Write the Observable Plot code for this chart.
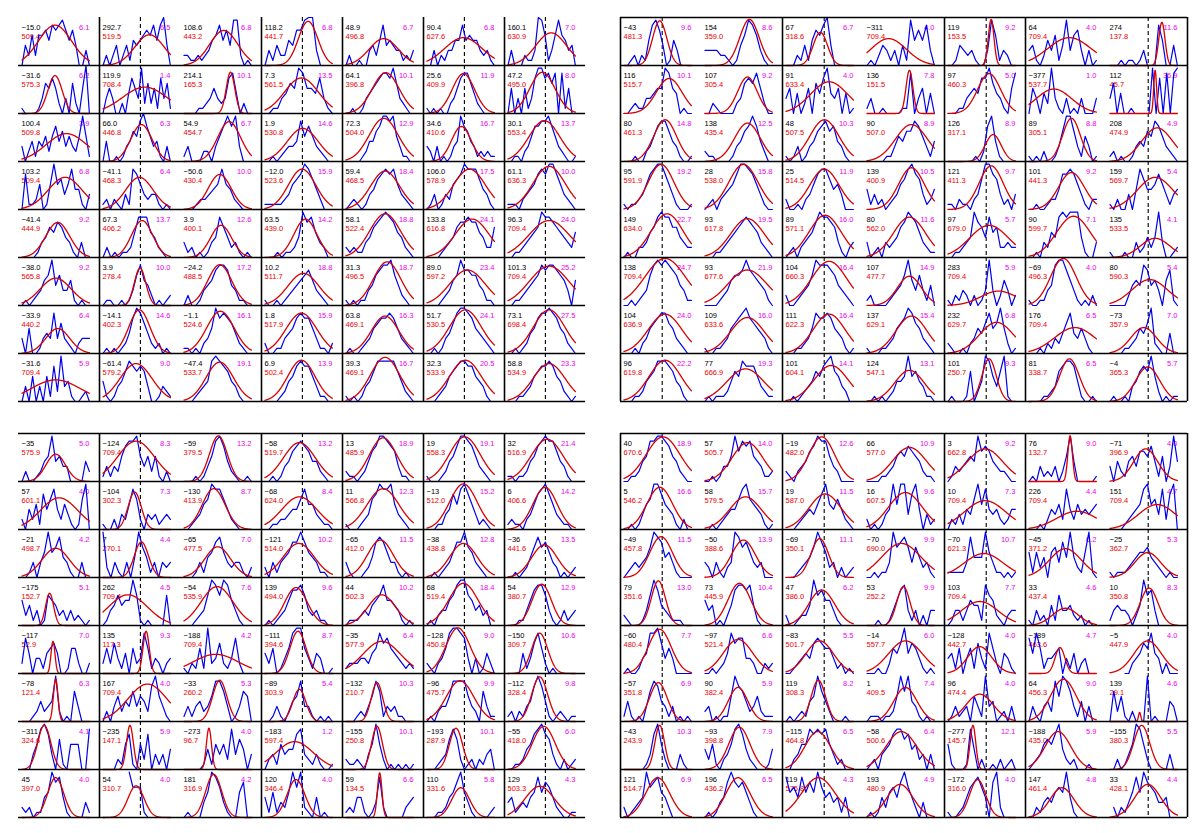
<!DOCTYPE html>
<html><head><meta charset="utf-8">
<script src="https://cdn.jsdelivr.net/npm/d3@7"></script>
<script src="https://cdn.jsdelivr.net/npm/@observablehq/plot@0.6"></script>
<style>
html,body{margin:0;padding:0;background:#fff;}
#chart{position:relative;width:1200px;height:833px;background:#fff;overflow:hidden;}
.panel{position:absolute;}
</style></head><body><div id="chart"></div>
<script>
// ---------- DATA: top-left panel ----------
const tlBlack = ["−15.0","292.7","108.6","118.2","48.9","90.4","160.1",
"−31.6","119.9","214.1","7.3","64.1","25.6","47.2",
"100.4","66.0","54.9","1.9","72.3","34.6","30.1",
"103.2","−41.1","−50.6","−12.0","59.4","106.0","61.1",
"−41.4","67.3","3.9","63.5","58.1","133.8","96.3",
"−38.0","3.9","−24.2","10.2","31.3","89.0","101.3",
"−33.9","−14.1","−1.1","1.8","63.8","51.7","73.1",
"−31.6","−61.4","−47.4","6.9","39.3","32.3","58.8"];
const tlRed = ["509.4","519.5","443.2","441.7","496.8","627.6","630.9",
"575.3","708.4","165.3","561.5","396.8","409.9","495.0",
"509.8","446.8","454.7","530.8","504.0","410.6","553.4",
"509.4","468.3","430.4","523.6","468.5","578.9","636.3",
"444.9","406.2","400.1","439.0","522.4","616.8","709.4",
"565.8","278.4","488.5","511.7","496.5","597.2","709.4",
"440.2","402.3","524.6","517.9","469.1","530.5","698.4",
"709.4","579.2","533.7","502.4","469.1","533.9","534.9"];
const tlMag = ["6.1","6.5","6.8","6.8","6.7","6.8","7.0",
"6.2","1.4","10.1","13.5","10.1","11.9","8.0",
"3.9","6.3","6.7","14.6","12.9","16.7","13.7",
"6.8","6.4","10.0","15.9","18.4","17.5","10.0",
"9.2","13.7","12.6","14.2","18.8","24.1","24.0",
"9.2","10.0","17.2","18.8","18.7","23.4","25.2",
"6.4","14.6","16.1","15.9","16.3","24.1","27.5",
"5.9","9.0","19.1","13.9","16.7","20.5","23.3"];
// Gaussian fit: [centre, FWHM, peak] in cell units
const tlFit = [[.49,.58,.84],[.69,.51,.64],[.59,.49,.73],[.64,.34,.92],[.56,.51,.56],[.54,.66,.58],[.64,.54,.68],
[.49,.25,.79],[.62,.78,.55],[.69,.15,.86],[.54,.59,.74],[.59,.47,.85],[.54,.39,.83],[.51,.44,.86],
[.66,.71,.58],[.57,.37,.77],[.67,.40,.83],[.56,.54,.69],[.56,.51,.90],[.51,.34,.73],[.54,.54,.85],
[.64,.59,.67],[.54,.48,.67],[.53,.40,.73],[.55,.48,.84],[.58,.51,.80],[.63,.56,.84],[.61,.56,.90],
[.53,.42,.73],[.58,.37,.77],[.55,.37,.67],[.60,.40,.80],[.58,.54,.91],[.67,.59,.80],[.61,.71,.77],
[.50,.54,.57],[.55,.20,.78],[.53,.42,.85],[.57,.54,.67],[.61,.48,.91],[.60,.62,.74],[.61,.70,.82],
[.53,.42,.52],[.54,.37,.91],[.54,.48,.88],[.54,.54,.84],[.58,.48,.78],[.57,.56,.91],[.61,.55,.91],
[.50,.85,.45],[.49,.56,.79],[.53,.48,.82],[.54,.48,.86],[.58,.51,.92],[.57,.56,.86],[.61,.56,.79]];
// spectra: one digit per channel (0 = baseline, 9 = near top, a = top, - = no data)
const tlBlue = ["042626675878975740030","020240241545676858a40","22112123568574992010","03142254779aa30000","020010034258454331213","00302133558565532310","030002113a96136965340",
"1000013657520306205a0","0353002047539262517361","0000112353237840200","00113465985547310","001001345678879632100","101010023578864210000","050305137997868081500",
"302414352574635325951","040010134658a75341030","130002203579793000","001012334857532100","000001244679989531100","320301013497643121211","001102357788975321001",
"07112501595635844103","1202103187532331010","00012234585421000","111112356798642000","012101346787853210","0130132567988864310","1110234578799753210",
"000013465764310300","020101125888542100","312010134864231010","00010112497853200","212113467898754210","0000123467787754226","0011234569887654325",
"0101235694633510100","0110010136854201012","020013457887431100","100101234567532100","1010113467889642100","0000123569776643110","0011234568788765305",
"30500134383632102333","0101012479864212010","110102359787642100","200113457877531102","010012356778753210","0010134689987543210","0010124578898754210",
"03050305172934100120","4101346876763001321","000123489876431000","000012457877531100","101013468888864210","0001235678877543100","0001123567787542101"];

// ---------- DATA: top-right panel ----------
const trBlack = ["−43","154","67","−311","119","64","274",
"116","107","91","136","97","−377","112",
"80","138","48","90","126","89","208",
"95","28","25","139","121","101","159",
"149","93","89","80","97","90","135",
"138","93","104","107","283","−69","80",
"104","109","111","137","232","176","−73",
"96","77","101","124","101","81","−4"];
const trRed = ["481.3","359.0","318.6","709.4","153.5","709.4","137.8",
"515.7","305.4","633.4","151.5","460.3","537.7","45.7",
"461.3","435.4","507.5","507.0","317.1","305.1","474.9",
"591.9","538.0","514.5","400.9","411.3","441.3","569.7",
"634.0","617.8","571.1","562.0","679.0","599.7","533.5",
"709.4","677.6","660.3","477.7","709.4","496.3","590.3",
"636.9","633.6","622.3","629.1","629.7","709.4","357.9",
"619.8","666.9","604.1","547.1","250.7","338.7","365.3"];
const trMag = ["9.6","8.6","6.7","4.0","9.2","4.0","11.6",
"10.1","9.2","4.0","7.8","5.0","1.0","36.9",
"14.8","12.5","10.3","8.9","8.9","8.8","4.9",
"19.2","15.8","11.9","10.5","9.7","9.2","5.4",
"22.7","19.5","16.0","11.6","5.7","7.1","4.1",
"24.7","21.9","16.4","14.9","5.9","4.0","5.4",
"24.0","16.0","16.4","15.4","6.8","6.5","7.0",
"22.2","19.3","14.1","13.1","9.3","6.5","5.7"];
const trFit = [[.53,.25,.93],[.66,.34,.96],[.51,.25,.69],[.32,.62,.56],[.64,.10,.96],[.60,.76,.58],[.77,.11,.90],
[.67,.45,.73],[.63,.34,.76],[.64,.65,.66],[.63,.12,.90],[.61,.40,.83],[.37,.62,.51],[.67,.05,.90],
[.61,.40,.87],[.63,.45,.80],[.57,.51,.87],[.66,.56,.77],[.67,.28,.56],[.63,.31,.90],[.70,.54,.70],
[.55,.45,.94],[.57,.51,.94],[.57,.51,.84],[.66,.45,.87],[.64,.42,.91],[.63,.45,.77],[.67,.62,.67],
[.64,.56,.91],[.63,.59,.81],[.58,.56,.88],[.63,.56,.84],[.61,.68,.67],[.66,.59,.86],[.67,.51,.40],
[.61,.71,.98],[.63,.68,.74],[.64,.62,.92],[.63,.42,.61],[.75,.62,.30],[.51,.45,.98],[.59,.62,.54],
[.61,.59,.82],[.63,.59,.75],[.64,.56,.82],[.66,.54,.78],[.72,.59,.65],[.68,.71,.54],[.50,.45,.54],
[.61,.56,.86],[.60,.65,.68],[.67,.59,.75],[.63,.51,.65],[.61,.25,.89],[.60,.34,.89],[.56,.42,.72]];
const trBlue = ["00120215897401530---","333322101469863100","00021415768a4000---","010243130419575830","001432310039613200","3410253614936730301","0001011013000850040",
"0012113345598540100","002100002367685200","3504025064794350401","130010000118035040","0001134547796431058","0530429310301030003","36040010000090708089",
"0001002357886431001","211000013467974200","101301346786743100","000001135466875314","000000010279410000","1010200136996315301","1201001343658753210",
"1011235789975310001","012023457998753100","200102357886453000","4131201235689763124","1102110236997631203","0010012247787531022","1020030486445753134",
"0100223568988664322","0001123456787653210","0120234579887631023","3012032346798753211","0011234976485622322","0010325489899941003","1000100312424930012",
"0010123689898764311","0000123566797654310","2001234698887643210","1200001234695363140","1021320201393025302","1001134899753101020","0000024548745305710",
"0001023567886532100","1001123567897654310","0001123587787543101","1000112356798653210","2100102354685695201","0001021324684353100","0000112354692100400",
"0001124568887643100","0101112465877753211","0010123465789653200","0010101244595643110","0100016024985369100","0000112367887410010","0100103467695201011"];

// ---------- DATA: bottom-left panel ----------
const blBlack = ["−35","−124","−59","−58","13","19","32",
"57","−104","−130","−68","11","−13","6",
"−21","7","−65","−121","−65","−38","−36",
"−175","262","−54","139","44","68","54",
"−117","135","−188","−111","−35","−128","−150",
"−78","167","−33","−89","−132","−96","−112",
"−311","−235","−273","−183","−155","−193","−55",
"45","54","181","120","59","110","129"];
const blRed = ["575.9","709.4","379.5","519.7","485.9","558.3","516.9",
"601.1","302.3","413.9","624.0","566.8","512.0","406.6",
"498.7","270.1","477.5","514.0","412.0","438.8","441.6",
"152.7","709.4","535.9","494.0","502.3","519.4","380.7",
"52.9","117.3","709.4","394.6","577.9","450.8","309.7",
"121.4","709.4","260.2","303.9","210.7","475.7","328.4",
"324.6","147.1","96.7","597.4","250.8","287.9","418.0",
"397.0","310.7","316.9","346.4","134.5","331.6","503.3"];
const blMag = ["5.0","8.3","13.2","13.2","18.9","19.1","21.4",
"4.0","7.3","8.7","8.4","12.3","15.2","14.2",
"4.2","4.4","7.0","10.2","11.5","12.8","13.5",
"5.1","4.5","7.6","9.6","10.2","18.4","12.9",
"7.0","9.3","4.2","8.7","6.4","9.0","10.6",
"6.3","4.0","5.3","5.4","10.3","9.9","9.8",
"4.1","5.9","4.0","1.2","10.1","10.1","6.0",
"4.0","4.0","4.2","4.0","6.6","5.8","4.3"];
const blFit = [[.50,.34,.57],[.49,.65,.84],[.51,.31,.95],[.51,.56,.81],[.55,.48,.91],[.56,.54,.93],[.58,.56,.88],
[.55,.65,.66],[.47,.23,.78],[.44,.40,.85],[.51,.62,.68],[.55,.56,.85],[.54,.48,.95],[.55,.42,.88],
[.50,.48,.61],[.57,.25,.74],[.50,.45,.64],[.50,.54,.71],[.51,.45,.78],[.54,.48,.71],[.54,.45,.68],
[.41,.14,.67],[.37,.68,.64],[.49,.56,.81],[.46,.40,.79],[.53,.48,.64],[.54,.51,.88],[.50,.34,.86],
[.46,.07,.67],[.64,.11,.88],[.47,.79,.40],[.49,.28,.88],[.53,.65,.67],[.46,.42,.95],[.47,.28,.84],
[.50,.08,.88],[.66,.68,.78],[.53,.25,.86],[.51,.23,.67],[.46,.20,.81],[.49,.48,.85],[.47,.28,.93],
[.33,.23,.92],[.40,.12,.92],[.37,.09,.86],[.44,.65,.58],[.46,.19,.90],[.43,.23,.86],[.53,.40,.90],
[.50,.28,.83],[.49,.28,.66],[.44,.28,.90],[.46,.31,.79],[.50,.08,.93],[.50,.31,.62],[.47,.51,.65]];
const blBlue = ["0200124594533000042","1313257889535251020","000101358974210010","001013467876442100","2110124679987631100","1000124579987532100","1101124578988643100",
"20425174684253101690","1002032586203231232","001235698864210000","001122344685532110","1000123679889532100","0001134758975312100","1211023578975321100",
"0013035956843100300","920310304964130323","000131457853233102","203134577975431100","3100012478753310100","0010123577965321000","0010124686753201012",
"5241301654231312101","0134645596101000060","000123698698531000","010123577863231100","0111232456855431010","0102335689965342300","0001135788631013123",
"27403314564001552002","2526314052385132023","102151923621372000","425013589953143001","1222332458675432121","2102358998730301420","0000413685201000000",
"0001242349201063000","0203524363542795310","131342358863013650","001310245833101010","0001213586132311000","0102335888853206311","1202134797410121011",
"0003589730610555008","0000215710527031304","000001415352836403","023153447832131001","2112103595201010101","0001236862012021340","0011245789763102012",
"2120114597841000031","-------966610------","010003598631005700","415132596921040100","1214410138200000234","0001124579531000012","3412324585764210011"];

// ---------- DATA: bottom-right panel ----------
const brBlack = ["40","57","−19","66","3","76","−71",
"5","58","19","16","10","226","151",
"−49","−50","−69","−70","−70","−45","−25",
"79","73","47","53","103","33","10",
"−60","−97","−83","−14","−128","−189","−5",
"−57","90","119","1","96","64","139",
"−43","−93","−115","−58","−277","−188","−155",
"121","196","119","193","−172","147","33"];
const brRed = ["670.6","505.7","482.0","577.0","662.8","132.7","396.9",
"546.2","579.5","587.0","607.5","709.4","709.4","709.4",
"457.8","388.6","350.1","690.0","621.3","371.2","362.7",
"351.6","445.9","386.0","252.2","709.4","437.4","350.8",
"480.4","521.4","501.7","557.7","442.7","463.6","447.9",
"351.8","382.4","308.3","409.5","474.4","456.3","29.1",
"243.9","398.8","464.8","500.6","145.7","435.0","380.3",
"514.7","436.2","575.8","480.9","316.0","461.4","428.1"];
const brMag = ["18.9","14.0","12.6","10.9","9.2","9.0","4.0",
"16.6","15.7","11.5","9.6","7.3","4.4","4.7",
"11.5","13.9","11.1","9.9","10.7","6.2","5.3",
"13.0","10.4","6.2","9.9","7.7","4.6","8.3",
"7.7","6.6","5.5","6.0","4.0","4.7","4.0",
"6.9","5.9","8.2","7.4","4.0","9.0","4.6",
"10.3","7.9","6.5","6.4","12.1","5.9","5.5",
"6.9","6.5","4.3","4.9","4.0","4.8","4.4"];
const brFit = [[.58,.59,.93],[.63,.54,.81],[.53,.45,.93],[.63,.59,.71],[.55,.62,.68],[.61,.08,.95],[.53,.42,.68],
[.53,.45,.88],[.60,.56,.68],[.58,.56,.74],[.57,.59,.77],[.55,.73,.60],[.71,.71,.38],[.70,.65,.52],
[.55,.40,.85],[.57,.42,.78],[.50,.31,.81],[.51,.68,.71],[.53,.68,.50],[.54,.56,.60],[.56,.45,.52],
[.51,.25,.93],[.51,.40,.88],[.53,.45,.74],[.54,.23,.81],[.47,.65,.50],[.54,.45,.36],[.58,.31,.78],
[.53,.40,.92],[.49,.51,.71],[.50,.48,.68],[.57,.59,.68],[.47,.42,.56],[.46,.17,.54],[.56,.48,.68],
[.51,.31,.81],[.49,.34,.71],[.48,.25,.86],[.57,.40,.71],[.47,.48,.57],[.51,.45,.88],[.44,.04,.19],
[.53,.17,.92],[.51,.37,.88],[.47,.45,.79],[.51,.54,.79],[.37,.10,.92],[.43,.45,.79],[.47,.28,.92],
[.50,.42,.83],[.49,.42,.83],[.48,.59,.83],[.49,.45,.69],[.44,.28,.79],[.49,.42,.62],[.56,.45,.69]];
const brBlue = ["0011245889987542100","0010133596878543112","210234679885320000","0000112356576542110","0132345496764322100","0103121302594000001","3042145366574150394",
"0010135699754310200","0010123446896543101","000123435795464210","2010134959937940312","0213143695843421244","0001024352842534345","0000123458956382790",
"0123234698745310000","3203102398675323000","000123469752302012","0010113967863642310","1111138444953110101","5152405637494215910","1011123455643210100",
"2100013697432111000","5340102478878410000","200122496755310000","0001001357831302033","0133135441865210233","1031204163342120100","1343320249673000000",
"0100134889635300000","0010124867733200212","001234367655312010","0001002546946531010","3415035163185204310","74851334503140230--","----002346584302000",
"1410103687431301010","2301011597642352111","010121459642000100","0111011259694310100","0131230531934012030","0310342859863140300","0625102000901000430",
"----00137952000310-","4251023589742100014","002355878785312000","0120345788674523030","5100018402001020120","0123565794212000100","0020135985200000300",
"2012349678542000000","0101347976753100000","856485759645341400","0101425647964203000","1001246786407920000","0021343565941000---","-202135859765334000"];

// ---------- LAYOUT ----------
const W = 572, H = 388;
const X0 = -0.0517, X1 = 1.150;       // cell x-domain (spectrum spans 0..1)
const panels = [
  {left: 14.5, top: 15, black: tlBlack, red: tlRed, mag: tlMag, fit: tlFit, blue: tlBlue,
   hB: [1,2,3,4,5,6,7,8], vB: [1,3,4,5,6], dashCols: [1,3,5,6], dashX: 0.555},
  {left: 616.5, top: 15, black: trBlack, red: trRed, mag: trMag, fit: trFit, blue: trBlue,
   hB: [0,1,3,5,7,8], vB: [0,2,4,5,7], dashCols: [0,2,4,6], dashX: 0.567},
  {left: 14.5, top: 431, black: blBlack, red: blRed, mag: blMag, fit: blFit, blue: blBlue,
   hB: [0,1,2,3,4,5,6,7,8], vB: [1,3,4,5,6], dashCols: [1,3,5,6], dashX: 0.555},
  {left: 616.5, top: 431, black: brBlack, red: brRed, mag: brMag, fit: brFit, blue: brBlue,
   hB: [0,2,4,6,7,8], vB: [0,2,4,5,7], dashCols: [0,2,4,6], dashX: 0.567}
];
const FONT = "Liberation Sans, Arial, sans-serif";
function blueVal(ch) { if (ch === "-") return NaN; if (ch === "a") return 1.0; return (+ch) * 0.105; }

function panelPlot(p) {
  const cells = p.black.map((b, i) => ({fx: i % 7, fy: Math.floor(i / 7), black: b, red: p.red[i], mag: p.mag[i]}));
  const blue = [];
  p.blue.forEach((s, i) => {
    const n = s.length;
    for (let j = 0; j < n; j++) blue.push({fx: i % 7, fy: Math.floor(i / 7), id: i, x: j / (n - 1), y: blueVal(s[j])});
  });
  const red = [];
  p.fit.forEach(([mu, fw, amp], i) => {
    const sd = fw / 2.3548;
    const xs = d3.range(0, 201).map(j => j / 200).concat([mu]).sort((a, b) => a - b);
    for (const x of xs) red.push({fx: i % 7, fy: Math.floor(i / 7), id: i, x, y: amp * Math.exp(-0.5 * ((x - mu) / sd) ** 2)});
  });
  const hRules = [];
  for (const k of p.hB) {
    if (k === 0) for (let c = 0; c < 7; c++) hRules.push({fx: c, fy: 0, v: 1});
    else for (let c = 0; c < 7; c++) hRules.push({fx: c, fy: k - 1, v: 0});
  }
  const vRules = [];
  for (const k of p.vB) for (let r = 0; r < 8; r++) {
    if (k < 7) vRules.push({fx: k, fy: r, v: X0}); else vRules.push({fx: 6, fy: r, v: X1});
  }
  const dash = [];
  for (const c of p.dashCols) for (let r = 0; r < 8; r++) dash.push({fx: c, fy: r, v: p.dashX});

  return Plot.plot({
    width: W + 2, height: H + 2,
    marginLeft: 1, marginRight: 1, marginTop: 1, marginBottom: 1,
    style: {background: "transparent", overflow: "visible"},
    fx: {domain: d3.range(7), padding: 0, axis: null},
    fy: {domain: d3.range(8), padding: 0, axis: null},
    x: {domain: [X0, X1], axis: null},
    y: {domain: [0, 1], axis: null},
    marks: [
      Plot.ruleX(dash, {x: "v", fx: "fx", fy: "fy", stroke: "#000", strokeWidth: 1.1, strokeDasharray: "4,3"}),
      Plot.text(cells, {fx: "fx", fy: "fy", text: "black", frameAnchor: "top-left", lineAnchor: "top", textAnchor: "start",
        dx: 3, dy: 7, fill: "#000", fontSize: 7.5, fontFamily: FONT}),
      Plot.text(cells, {fx: "fx", fy: "fy", text: "red", frameAnchor: "top-left", lineAnchor: "top", textAnchor: "start",
        dx: 3, dy: 16.5, fill: "#ee0000", fontSize: 7.5, fontFamily: FONT}),
      Plot.text(cells, {fx: "fx", fy: "fy", text: "mag", frameAnchor: "top-right", lineAnchor: "top", textAnchor: "end",
        dx: -10, dy: 7, fill: "#ee00ee", fontSize: 7.5, fontFamily: FONT}),
      Plot.line(blue, {fx: "fx", fy: "fy", x: "x", y: "y", z: "id", stroke: "#0000ee", strokeWidth: 1.2, curve: "linear"}),
      Plot.line(red, {fx: "fx", fy: "fy", x: "x", y: "y", z: "id", stroke: "#d80000", strokeWidth: 1.3}),
      Plot.ruleY(hRules, {y: "v", fx: "fx", fy: "fy", stroke: "#000", strokeWidth: 1.6}),
      Plot.ruleX(vRules, {x: "v", fx: "fx", fy: "fy", stroke: "#000", strokeWidth: 1.6})
    ]
  });
}

const root = document.getElementById("chart");
for (const p of panels) {
  const div = document.createElement("div");
  div.className = "panel";
  div.style.left = (p.left - 1) + "px";
  div.style.top = (p.top - 1) + "px";
  div.appendChild(panelPlot(p));
  root.appendChild(div);
}
</script>
</body></html>
